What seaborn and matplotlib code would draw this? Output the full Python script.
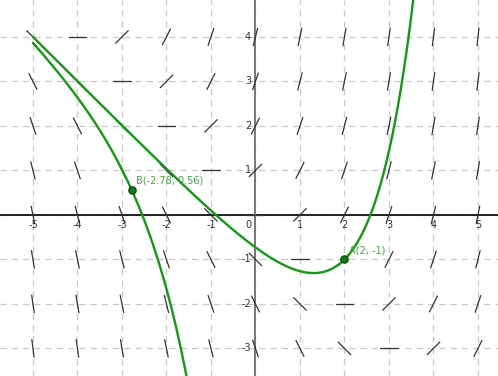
# Slope field of y' = x + y with two solution curves (GeoGebra style) using seaborn.
import numpy as np
import pandas as pd
import matplotlib
matplotlib.use("Agg")
import matplotlib.pyplot as plt
import seaborn as sns

# grid of the slope field
field_x = [-5, -4, -3, -2, -1, 0, 1, 2, 3, 4, 5]
field_y = [-3, -2, -1, 0, 1, 2, 3, 4]

# initial points of the two solution curves
point_names = ["A", "B"]
point_x = [2, -2.78]
point_y = [-1, 0.56]
point_labels = ["A(2, -1)", "B(-2.78, 0.56)"]

x_ticks = [-5, -4, -3, -2, -1, 1, 2, 3, 4, 5]
y_ticks = [-3, -2, -1, 1, 2, 3, 4]

x_lim = (-5.74, 5.45)
y_lim = (-3.62, 4.83)


def slope(x, y):
    return x + y


sns.set_style("white")
fig, ax = plt.subplots(figsize=(4.98, 3.76), dpi=100)
fig.subplots_adjust(left=0, right=1, bottom=0, top=1)

# dashed grid
for gx in range(-5, 6):
    ax.axvline(gx, color="#c8c8c8", lw=0.9, ls=(0, (5, 4)), zorder=0)
for gy in range(-3, 5):
    ax.axhline(gy, color="#c8c8c8", lw=0.9, ls=(0, (5, 4)), zorder=0)

ax.axhline(0, color="black", lw=1.2, zorder=1)
ax.axvline(0, color="#777777", lw=1.4, zorder=1)

# slope field segments
half = 0.2
rows = []
k = 0
for fx in field_x:
    for fy in field_y:
        m = slope(fx, fy)
        dx = half / np.sqrt(1 + m * m)
        dy = m * dx
        rows.append({"seg": k, "x": fx - dx, "y": fy - dy})
        rows.append({"seg": k, "x": fx + dx, "y": fy + dy})
        k += 1
seg_df = pd.DataFrame(rows)
sns.lineplot(data=seg_df, x="x", y="y", units="seg", estimator=None,
             color="#333333", lw=0.9, sort=False, ax=ax, zorder=2)

# solution curves through A and B: y = C e^x - x - 1
xs = np.linspace(-5, 5.5, 800)
curve_rows = []
for name, px, py in zip(point_names, point_x, point_y):
    c = (py + px + 1) * np.exp(-px)
    ys = c * np.exp(xs) - xs - 1
    for xv, yv in zip(xs, ys):
        if -4 < yv < 5.2:
            curve_rows.append({"curve": name, "x": xv, "y": yv})
curve_df = pd.DataFrame(curve_rows)
sns.lineplot(data=curve_df, x="x", y="y", units="curve", estimator=None,
             color="#139a13", lw=1.7, sort=False, ax=ax, zorder=3)

pts = pd.DataFrame({"x": point_x, "y": point_y})
sns.scatterplot(data=pts, x="x", y="y", color="#0f7f0f", edgecolor="#0a3a0a",
                s=28, linewidth=0.8, ax=ax, zorder=4)
for px, py, lab in zip(point_x, point_y, point_labels):
    ax.annotate(lab, (px, py), xytext=(3, 3), textcoords="offset points",
                color="#3aaa3a", fontsize=7, va="bottom", zorder=5)

# axis numbers
for t in x_ticks:
    ax.text(t, -0.12, str(t), ha="center", va="top",
            fontsize=7, color="#333333")
for t in y_ticks:
    ax.text(-0.1, t, str(t), ha="right", va="center",
            fontsize=7, color="#333333")
ax.text(-0.1, -0.12, "0", ha="right", va="top", fontsize=7, color="#333333")

ax.set_xlim(*x_lim)
ax.set_ylim(*y_lim)
ax.set_xlabel("")
ax.set_ylabel("")
ax.set_xticks([])
ax.set_yticks([])
for s in ax.spines.values():
    s.set_visible(False)

fig.savefig("out.png", dpi=100)
